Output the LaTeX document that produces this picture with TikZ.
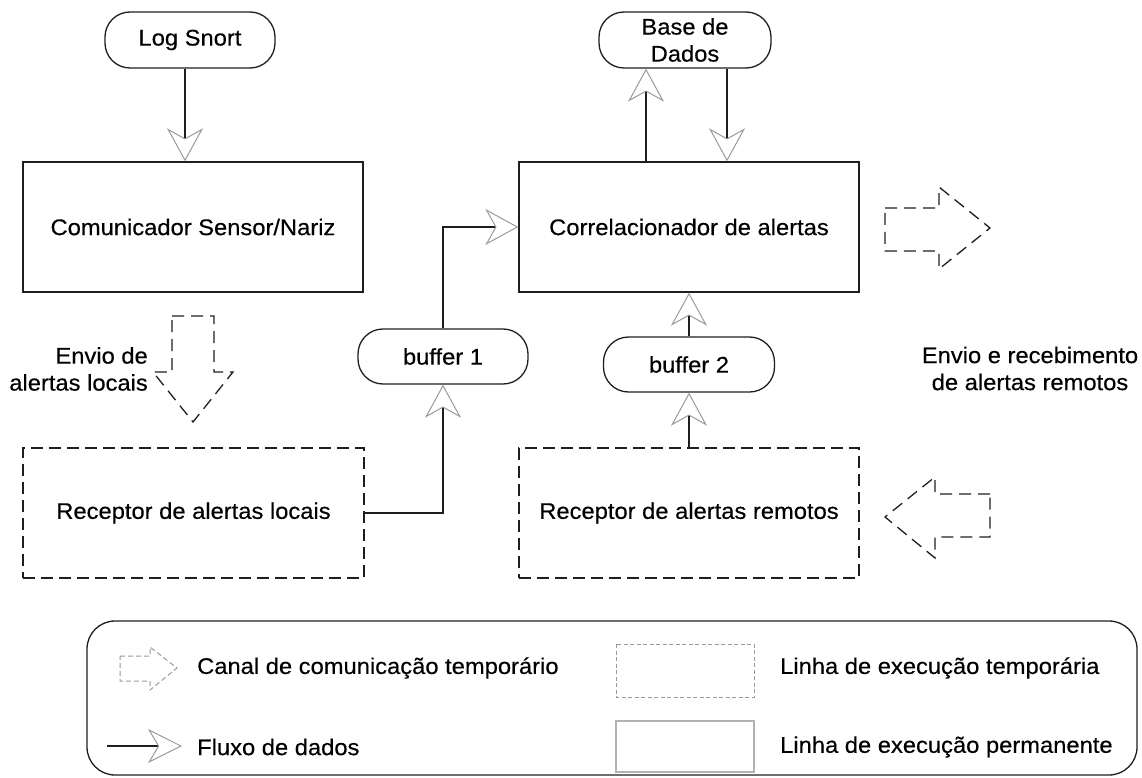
\documentclass[tikz,border=0pt]{standalone}
\usepackage{fontspec}
\setmainfont{Liberation Sans}[FakeStretch=1.05, FakeBold=0.35]
\usetikzlibrary{arrows.meta}
\definecolor{ink}{HTML}{1E1E1E}
\definecolor{tipgray}{HTML}{9A9A9A}
\begin{document}
\begin{tikzpicture}[x=1pt,y=-1pt,
  txt/.style={font=\fontsize{22.6}{27}\selectfont, text=black, inner sep=0pt},
  box/.style={txt, draw=ink, line width=1.3pt},
  tempbox/.style={box, dash pattern=on 12pt off 6pt},
  pill/.style={box, rounded corners=25pt},
  flow/.style={draw=ink, line width=1.3pt,
    -{Stealth[open, length=33pt, width=36pt, inset=10pt, color=tipgray, line width=1pt]}},
  chan/.style={draw=ink, line width=1.3pt, dash pattern=on 12pt off 7pt},
]
\useasboundingbox (0,0) rectangle (1142,778);

% main nodes
\node[pill, minimum width=170pt, minimum height=56pt] (log) at (190,40) {Log Snort};
\node[pill, align=center, minimum width=172pt, minimum height=56pt] (db) at (685,40) {Base de\\Dados};
\node[box, minimum width=340pt, minimum height=130pt] (com) at (193,227) {Comunicador Sensor/Nariz};
\node[box, minimum width=340pt, minimum height=130pt] (corr) at (689,227) {Correlacionador de alertas};
\node[pill, minimum width=170pt, minimum height=55pt] (buf1) at (443,356.5) {buffer 1};
\node[pill, minimum width=171pt, minimum height=55pt] (buf2) at (689,364.5) {buffer 2};
\node[tempbox, minimum width=341pt, minimum height=130pt] (rloc) at (193.5,513) {Receptor de alertas locais};
\node[tempbox, minimum width=340pt, minimum height=130pt] (rrem) at (689,513) {Receptor de alertas remotos};

% data flow connectors
\draw[flow] ([xshift=-5pt]log.south) -- ([xshift=-8pt]com.north);
\draw[flow] ([xshift=-43pt]corr.north) -- ([xshift=-39pt]db.south);
\draw[flow] ([xshift=42pt]db.south) -- ([xshift=38pt]corr.north);
\draw[flow] (buf1.north) |- (corr.west);
\draw[flow] (rloc.east) -| (buf1.south);
\draw[flow] (rrem.north) -- (buf2.south);
\draw[flow] (buf2.north) -- (corr.south);

% temporary communication channels (big dashed arrows)
\draw[chan] (885,208) -- (939,208) -- (939,187) -- (990,228) -- (939,269) -- (939,251) -- (885,251) -- cycle;
\draw[chan] (990,494) -- (935,494) -- (935,477) -- (885,517) -- (935,558) -- (935,537) -- (990,537) -- cycle;
\draw[chan] (172,316) -- (214,316) -- (214,372) -- (233,372) -- (193,422) -- (153,372) -- (172,372) -- cycle;

% labels
\node[txt, align=right, anchor=east] (envloc) at (148,369) {Envio de\hspace{6pt}\\alertas locais};
\node[txt, align=center] (envrem) at (1030,368.5) {Envio e recebimento\\de alertas remotos};

% legend
\draw[draw=ink, line width=1.3pt, rounded corners=28pt] (87,621) rectangle (1137,775);
\draw[tipgray, line width=1pt, dash pattern=on 5pt off 3pt] (120,656) -- (150,656) -- (150,647) -- (177,668) -- (150,690) -- (150,681) -- (120,681) -- cycle;
\coordinate (lfa) at (107,746);
\coordinate (lfb) at (182,746);
\draw[draw=ink, line width=1.3pt,
  -{Stealth[open, length=34pt, width=34pt, inset=10pt, color=tipgray, line width=1pt]}] (lfa) -- (lfb);
\node[txt, anchor=west] (lcanal) at (197,668) {Canal de comunicação temporário};
\node[txt, anchor=west] (lfluxo) at (197,747) {Fluxo de dados};
\draw[tipgray, line width=1pt, dash pattern=on 4pt off 2.5pt] (616,644) rectangle (754,697);
\draw[gray!60, line width=1.6pt] (616,721) rectangle (754,772);
\node[txt, anchor=west] (ltemp) at (780,668) {Linha de execução temporária};
\node[txt, anchor=west] (lperm) at (780,747) {Linha de execução permanente};
\end{tikzpicture}
\end{document}
